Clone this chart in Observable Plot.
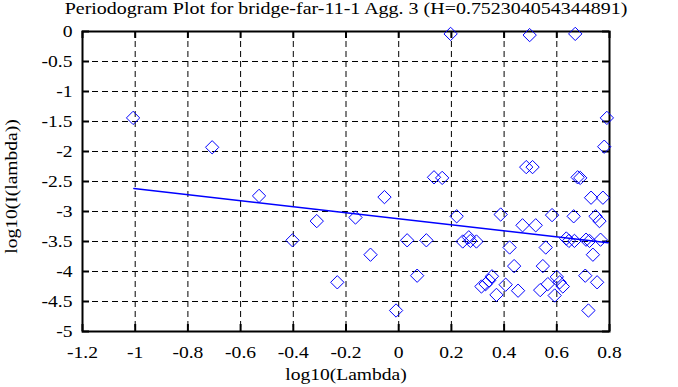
<!DOCTYPE html>
<html>
<head>
<meta charset="utf-8">
<script src="https://cdn.jsdelivr.net/npm/d3@7"></script>
<script src="https://cdn.jsdelivr.net/npm/@observablehq/plot@0.6"></script>
<style>
  html, body { margin: 0; padding: 0; background: #fff; }
</style>
</head>
<body>
<div id="chart"></div>
<script>
const title = "Periodogram Plot for bridge-far-11-1 Agg. 3 (H=0.752304054344891)";
const xLabel = "log10(Lambda)";
const yLabel = "log10(I(lambda))";

const xTicks = [-1.2, -1, -0.8, -0.6, -0.4, -0.2, 0, 0.2, 0.4, 0.6, 0.8];
const yTicks = [0, -0.5, -1, -1.5, -2, -2.5, -3, -3.5, -4, -4.5, -5];

// periodogram points: log10(lambda), log10(I(lambda))
const logLambda = [
  -1.008, -0.708, -0.530, -0.403, -0.311, -0.233, -0.164, -0.107, -0.054, -0.010,
   0.032,  0.070,  0.105,  0.134,  0.165,  0.197,  0.220,  0.243,  0.266,  0.272,
   0.295,  0.314,  0.330,  0.343,  0.354,  0.371,  0.387,  0.406,  0.421,  0.438,
   0.453,  0.470,  0.484,  0.497,  0.508,  0.520,  0.537,  0.547,  0.558,  0.566,
   0.582,  0.592,  0.600,  0.611,  0.623,  0.636,  0.646,  0.664,  0.667,  0.670,
   0.679,  0.689,  0.708,  0.711,  0.720,  0.724,  0.730,  0.737,  0.747,  0.753,
   0.762,  0.766,  0.775,  0.780,  0.790
];
const logPower = [
  -1.44, -1.93, -2.74, -3.48, -3.16, -4.18, -3.10, -3.72, -2.76, -4.65,
  -3.48, -4.07, -3.48, -2.43, -2.44, -0.04, -3.08, -3.50, -3.43, -3.49,
  -3.50, -4.25, -4.21, -4.15, -4.08, -4.39, -3.05, -4.22, -3.60, -3.91,
  -4.32, -3.23, -2.26, -0.06, -2.26, -3.23, -4.31, -3.91, -3.60, -4.21,
  -3.06, -4.40, -4.09, -4.18, -4.25, -3.45, -3.49, -3.08, -3.49, -0.04,
  -2.43, -2.44, -4.07, -3.47, -4.65, -3.49, -2.77, -3.72, -3.08, -4.18,
  -3.16, -3.47, -2.77, -1.92, -1.44
];

// least-squares fit line endpoints
const fitX = [-1.005, 0.795];
const fitY = [-2.615, -3.52];

const points = logLambda.map((x, i) => ({x, y: logPower[i]}));
const fit = fitX.map((x, i) => ({x, y: fitY[i]}));
const gridXVals = xTicks.filter(v => v > -1.2 && v < 0.8);
const gridYVals = yTicks.filter(v => v < 0 && v > -5);
const fmt = d => String(d);
const blue = "#0000ff";

const chart = Plot.plot({
  width: 678,
  height: 387,
  marginLeft: 82,
  marginRight: 69,
  marginTop: 31,
  marginBottom: 56,
  style: {fontFamily: "'Liberation Serif', 'DejaVu Serif', serif", fontSize: "17px", color: "black", background: "white"},
  x: {domain: [-1.2, 0.8]},
  y: {domain: [-5, 0]},
  marks: [
    Plot.gridX(gridXVals, {stroke: "black", strokeOpacity: 1, strokeWidth: 1, strokeDasharray: "6,4"}),
    Plot.gridY(gridYVals, {stroke: "black", strokeOpacity: 1, strokeWidth: 1, strokeDasharray: "6,4"}),
    Plot.tickX(xTicks, {x: d => d, insetTop: 293, stroke: "black", strokeWidth: 2}),
    Plot.tickX(xTicks, {x: d => d, insetBottom: 293, stroke: "black", strokeWidth: 2}),
    Plot.tickY(yTicks, {y: d => d, insetLeft: 520, stroke: "black", strokeWidth: 2}),
    Plot.tickY(yTicks, {y: d => d, insetRight: 520, stroke: "black", strokeWidth: 2}),
    Plot.axisX(xTicks, {anchor: "bottom", tickSize: 0, tickPadding: 14, tickFormat: fmt, label: null, fontSize: 17}),
    Plot.axisY(yTicks, {anchor: "left", tickSize: 0, tickPadding: 10, tickFormat: fmt, label: null, fontSize: 17}),
    Plot.frame({stroke: "black", strokeWidth: 2}),
    Plot.line(fit, {x: "x", y: "y", stroke: blue, strokeWidth: 1.5}),
    Plot.dot(points, {x: "x", y: "y", symbol: "diamond2", r: 6, stroke: blue, fill: "none", strokeWidth: 1}),
    Plot.text([title], {frameAnchor: "top", lineAnchor: "top", dy: -29.6, fontSize: 17, fill: "black", className: "ttl"}),
    Plot.text([xLabel], {frameAnchor: "bottom", lineAnchor: "top", dy: 36, fontSize: 17, fill: "black"}),
    Plot.text([yLabel], {frameAnchor: "left", textAnchor: "middle", rotate: -90, dx: -71, dy: 5, fontSize: 17, fill: "black"})
  ]
});
document.getElementById("chart").appendChild(chart);

// the reference font is wider than Liberation Serif: stretch text horizontally
chart.querySelectorAll("text").forEach(t => {
  const len = t.getComputedTextLength();
  if (!len) return;
  const k = t.textContent === title ? 1.175 : 1.15;
  t.setAttribute("textLength", (len * k).toFixed(1));
  t.setAttribute("lengthAdjust", "spacingAndGlyphs");
});
</script>
</body>
</html>
